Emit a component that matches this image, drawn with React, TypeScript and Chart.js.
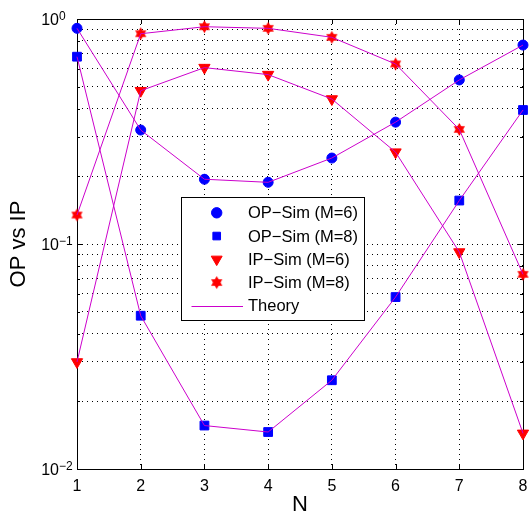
import React, { useEffect, useRef } from 'react';
import { Chart, registerables } from 'chart.js';
import { drawPoint } from 'chart.js/helpers';

Chart.register(...registerables);

// ---- data ----
const N = [1, 2, 3, 4, 5, 6, 7, 8];
const opSimM6 = [0.909, 0.321, 0.194, 0.188, 0.241, 0.348, 0.536, 0.766];
const opSimM8 = [0.68, 0.048, 0.0156, 0.0146, 0.0248, 0.0581, 0.156, 0.394];
const ipSimM6 = [0.0299, 0.48, 0.608, 0.566, 0.441, 0.256, 0.0921, 0.0144];
const ipSimM8 = [0.1345, 0.86, 0.924, 0.909, 0.829, 0.631, 0.323, 0.0733];
const theorySeries = [opSimM6, opSimM8, ipSimM6, ipSimM8];

const xTicks = [1, 2, 3, 4, 5, 6, 7, 8];
const yTicks = [
  0.01, 0.02, 0.03, 0.04, 0.05, 0.06, 0.07, 0.08, 0.09,
  0.1, 0.2, 0.3, 0.4, 0.5, 0.6, 0.7, 0.8, 0.9, 1,
];
const yDecades = [1, 0.1, 0.01];
const yDecadeExp = ['0', '\u22121', '\u22122'];
const legendLabels = [
  'OP\u2212Sim (M=6)',
  'OP\u2212Sim (M=8)',
  'IP\u2212Sim (M=6)',
  'IP\u2212Sim (M=8)',
  'Theory',
];
const xTitle = 'N';
const yTitle = 'OP vs IP';

const FONT = '"Liberation Sans", Arial, Helvetica, sans-serif';
const BLUE = '#0000ff';
const RED = '#ff0000';
const MAGENTA = '#cc00cc';

function makeHexagram(R: number, color: string) {
  const s = Math.ceil(2 * R + 2);
  const c = document.createElement('canvas');
  c.width = s;
  c.height = s;
  const ctx = c.getContext('2d')!;
  ctx.fillStyle = color;
  const cx = s / 2;
  const cy = s / 2;
  for (const off of [-Math.PI / 2, Math.PI / 2]) {
    ctx.beginPath();
    for (let k = 0; k < 3; k++) {
      const a = off + (k * 2 * Math.PI) / 3;
      const px = cx + R * Math.cos(a);
      const py = cy + R * Math.sin(a);
      if (k === 0) ctx.moveTo(px, py);
      else ctx.lineTo(px, py);
    }
    ctx.closePath();
    ctx.fill();
  }
  return c;
}

export default function App() {
  const ref = useRef<HTMLCanvasElement | null>(null);

  useEffect(() => {
    document.body.style.margin = '0';
    const canvas = ref.current!;
    const hex = makeHexagram(6.5, RED);

    const markerStyles = [
      { style: 'circle' as any, color: BLUE, radius: 5, rot: 0 },
      { style: 'rect' as any, color: BLUE, radius: 6.2, rot: 0 },
      { style: 'triangle' as any, color: RED, radius: 6.5, rot: 180 },
      { style: hex as any, color: RED, radius: 6.5, rot: 0 },
    ];
    const legendMarkers = [
      { style: 'circle' as any, color: BLUE, radius: 5.2, rot: 0 },
      { style: 'rect' as any, color: BLUE, radius: 5.4, rot: 0 },
      { style: 'triangle' as any, color: RED, radius: 6.3, rot: 180 },
      { style: hex as any, color: RED, radius: 6.5, rot: 0 },
    ];

    const simData = [opSimM6, opSimM8, ipSimM6, ipSimM8];
    const markerDatasets = simData.map((arr, i) => ({
      label: legendLabels[i],
      data: N.map((n, j) => ({ x: n, y: arr[j] })),
      showLine: false,
      pointStyle: markerStyles[i].style,
      pointRadius: markerStyles[i].radius,
      pointRotation: markerStyles[i].rot,
      pointBackgroundColor: markerStyles[i].color,
      pointBorderColor: markerStyles[i].color,
      pointBorderWidth: markerStyles[i].style === hex ? 0 : 1,
      clip: false as any,
      order: 1,
    }));
    const theoryDatasets = theorySeries.map((arr) => ({
      label: 'Theory',
      data: N.map((n, j) => ({ x: n, y: arr[j] })),
      borderColor: MAGENTA,
      borderWidth: 1,
      pointRadius: 0,
      tension: 0,
      fill: false,
      clip: false as any,
      order: 0,
    }));

    const deco = {
      id: 'matlabDeco',
      beforeDatasetsDraw(chart: any) {
        const { ctx, chartArea: a } = chart;
        const xs = chart.scales.x;
        const ys = chart.scales.y;
        ctx.save();
        ctx.strokeStyle = '#000';
        ctx.lineWidth = 1;
        ctx.beginPath();
        for (const v of xTicks) {
          const px = Math.round(xs.getPixelForValue(v)) + 0.5;
          ctx.moveTo(px, a.bottom);
          ctx.lineTo(px, a.bottom - 5);
          ctx.moveTo(px, a.top);
          ctx.lineTo(px, a.top + 5);
        }
        for (const v of yTicks) {
          const len = yDecades.includes(v) ? 5 : 3;
          const py = Math.round(ys.getPixelForValue(v)) + 0.5;
          ctx.moveTo(a.left, py);
          ctx.lineTo(a.left + len, py);
          ctx.moveTo(a.right, py);
          ctx.lineTo(a.right - len, py);
        }
        ctx.stroke();
        ctx.strokeRect(
          Math.round(a.left) + 0.5,
          Math.round(a.top) + 0.5,
          Math.round(a.right - a.left),
          Math.round(a.bottom - a.top)
        );
        ctx.restore();
      },
      afterDraw(chart: any) {
        const { ctx, chartArea: a } = chart;
        const xs = chart.scales.x;
        const ys = chart.scales.y;
        ctx.save();
        ctx.fillStyle = '#000';
        // x tick labels
        ctx.font = `16px ${FONT}`;
        ctx.textAlign = 'center';
        ctx.textBaseline = 'alphabetic';
        for (const v of xTicks) {
          ctx.fillText(String(v), xs.getPixelForValue(v), a.bottom + 22);
        }
        // y tick labels (10^k)
        yDecades.forEach((v, i) => {
          const py = ys.getPixelForValue(v);
          ctx.font = `16px ${FONT}`;
          ctx.textAlign = 'right';
          ctx.fillText('10', 59, py + 6);
          ctx.font = `12px ${FONT}`;
          ctx.textAlign = 'left';
          ctx.fillText(yDecadeExp[i], 59, py + 0.5);
        });
        // axis titles
        ctx.font = `22px ${FONT}`;
        ctx.textAlign = 'center';
        ctx.textBaseline = 'middle';
        ctx.fillText(xTitle, (a.left + a.right) / 2, 505);
        ctx.save();
        ctx.translate(19, (a.top + a.bottom) / 2);
        ctx.rotate(-Math.PI / 2);
        ctx.fillText(yTitle, 0, 0);
        ctx.restore();

        // legend
        const bx = 181.5, by = 197.5, bw = 183, bh = 123;
        ctx.fillStyle = '#fff';
        ctx.fillRect(bx, by, bw, bh);
        ctx.strokeStyle = '#000';
        ctx.lineWidth = 1;
        ctx.strokeRect(bx, by, bw, bh);
        const row0 = 212.8, step = 23.25;
        ctx.font = `16.5px ${FONT}`;
        ctx.textAlign = 'left';
        ctx.textBaseline = 'middle';
        legendLabels.forEach((lab, i) => {
          const ry = row0 + i * step;
          if (i < 4) {
            const m = legendMarkers[i];
            ctx.fillStyle = m.color;
            ctx.strokeStyle = m.color;
            ctx.lineWidth = 1;
            drawPoint(ctx, { pointStyle: m.style, rotation: m.rot, radius: m.radius, borderWidth: m.style === hex ? 0 : 1 } as any, 216.7, ry);
          } else {
            ctx.strokeStyle = MAGENTA;
            ctx.lineWidth = 1;
            ctx.beginPath();
            ctx.moveTo(191.5, Math.round(ry) + 0.5);
            ctx.lineTo(243, Math.round(ry) + 0.5);
            ctx.stroke();
          }
          ctx.fillStyle = '#000';
          ctx.fillText(lab, 248, ry + 1);
        });
        ctx.restore();
      },
    };

    const chart = new Chart(canvas, {
      type: 'line',
      data: { datasets: [...markerDatasets, ...theoryDatasets] as any },
      options: {
        responsive: false,
        animation: false,
        devicePixelRatio: 1,
        layout: { padding: { left: 0, right: 8, top: 19, bottom: 0 } },
        plugins: { legend: { display: false }, tooltip: { enabled: false } },
        scales: {
          x: {
            type: 'linear',
            min: 1,
            max: 8,
            afterBuildTicks: (s: any) => {
              s.ticks = xTicks.map((v) => ({ value: v }));
            },
            afterFit: (s: any) => {
              s.height = 48;
            },
            ticks: { display: false },
            grid: { color: '#000', lineWidth: 1, drawTicks: false },
            border: { display: false, dash: [1, 4] },
          },
          y: {
            type: 'logarithmic',
            min: 0.01,
            max: 1,
            afterBuildTicks: (s: any) => {
              s.ticks = yTicks.map((v) => ({ value: v }));
            },
            afterFit: (s: any) => {
              s.width = 77;
            },
            ticks: { display: false },
            grid: { color: '#000', lineWidth: 1, drawTicks: false },
            border: { display: false, dash: [1, 4] },
          },
        } as any,
      },
      plugins: [deco],
    });
    return () => chart.destroy();
  }, []);

  return (
    <canvas
      ref={ref}
      width={531}
      height={517}
      style={{ display: 'block', width: 531, height: 517 }}
    />
  );
}
